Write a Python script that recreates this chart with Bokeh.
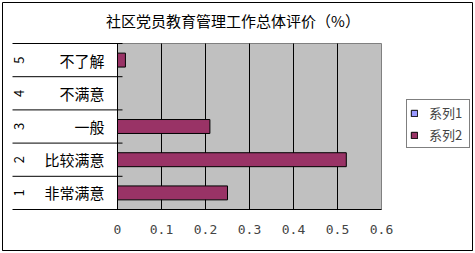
import math
from bokeh.plotting import figure
from bokeh.models import Range1d, FixedTicker, Legend, LegendItem, Label
from bokeh.core.properties import value
from bokeh.embed import file_html
from bokeh.resources import INLINE

# ---- data ----
categories = ["非常满意", "比较满意", "一般", "不满意", "不了解"]
group_numbers = ["1", "2", "3", "4", "5"]
series1 = [float("nan")] * 5
series2 = [0.25, 0.52, 0.21, 0.0, 0.018]
x_ticks = [0, 0.1, 0.2, 0.3, 0.4, 0.5, 0.6]
x_tick_labels = ["0", "0.1", "0.2", "0.3", "0.4", "0.5", "0.6"]
title_text = "社区党员教育管理工作总体评价（%）"
series_names = ["系列1", "系列2"]

CJK = "Noto Sans CJK SC"
W, H = 475, 253
# chart border (= plot frame) in canvas px
BL, BR, BT, BB = 2, 472, 2, 250
# plot area in canvas px
PL, PR, PT, PB = 117, 381, 43, 209
n = len(categories)
xpx = (PR - PL) / (x_ticks[-1] - x_ticks[0])      # px per x unit
ypx = (PB - PT) / n                                # px per category


def X(px):
    return x_ticks[0] + (px - PL) / xpx


def Y(py):
    return 0.5 + (PB - py) / ypx


ys = [i + 1 for i in range(n)]

p = figure(width=W, height=H, output_backend="svg", toolbar_location=None,
           x_range=Range1d(X(BL), X(BR)), y_range=Range1d(Y(BB), Y(BT)),
           y_axis_location=None, min_border_left=BL, min_border_right=W - BR,
           min_border_top=BT, min_border_bottom=H - BB)
p.outline_line_color = "black"
p.outline_line_width = 1
p.background_fill_color = "white"
p.border_fill_color = "white"
p.xgrid.visible = False
p.ygrid.visible = False

# plot area (gray)
p.quad(left=[x_ticks[0]], right=[x_ticks[-1]], bottom=[0.5], top=[n + 0.5],
       fill_color="#C0C0C0", line_color="#808080", line_width=1)

# vertical grid lines
p.segment(x0=x_ticks[:-1], x1=x_ticks[:-1], y0=[0.5] * (len(x_ticks) - 1),
          y1=[n + 0.5] * (len(x_ticks) - 1), line_color="black", line_width=1)

# category axis lines (separators) and value axis line
bounds = [i + 0.5 for i in range(1, n + 1)]
p.segment(x0=[X(12)] * len(bounds), x1=[X(PL + 5)] * len(bounds),
          y0=bounds, y1=bounds, line_color="black", line_width=1)
p.segment(x0=[X(12)], x1=[x_ticks[-1]], y0=[0.5], y1=[0.5],
          line_color="black", line_width=1)

# bars
r1 = p.hbar(y=ys, right=series1, left=0, height=0.42,
            fill_color="#9999FF", line_color="black", line_width=1)
r2 = p.hbar(y=ys, right=series2, left=0, height=0.42,
            fill_color="#993366", line_color="black", line_width=1)

# category labels
p.text(x=[X(104)] * n, y=ys, text=categories, text_align="right",
       text_baseline="middle", text_font=value(CJK), text_font_size="15px",
       text_color="black")
p.text(x=[X(18)] * n, y=ys, text=group_numbers, angle=math.pi / 2,
       text_align="center", text_baseline="middle", text_font=value(CJK),
       text_font_size="13px", text_color="black")

# x axis (its line is the bottom of the chart border, labels sit above it)
ax = p.xaxis[0]
ax.ticker = FixedTicker(ticks=x_ticks)
ax.major_label_overrides = {t: l for t, l in zip(x_ticks, x_tick_labels)}
ax.major_tick_out = 0
ax.major_tick_in = 0
ax.minor_tick_out = 0
ax.minor_tick_in = 0
ax.axis_line_color = "black"
ax.major_label_text_font = "DejaVu Sans Mono"
ax.major_label_text_font_size = "13px"
ax.major_label_standoff = -26

# title
p.add_layout(Label(x=(X(108) + X(357)) / 2, y=Y(20), text=title_text,
                   text_align="center", text_baseline="middle",
                   text_font=CJK, text_font_size="15px", text_color="black"))

# legend
legend = Legend(items=[LegendItem(label=series_names[0], renderers=[r1]),
                       LegendItem(label=series_names[1], renderers=[r2])],
                location=(406 - BL, BB - 148))
legend.label_text_font = CJK
legend.label_text_font_size = "13px"
legend.glyph_width = 8
legend.glyph_height = 8
legend.label_standoff = 11
legend.label_width = 37
legend.label_height = 18
legend.padding = 3
legend.spacing = 3
legend.margin = 0
legend.border_line_color = "black"
legend.border_line_width = 1
legend.background_fill_color = "white"
p.add_layout(legend)

open("out.html", "w").write(file_html(p, INLINE))
